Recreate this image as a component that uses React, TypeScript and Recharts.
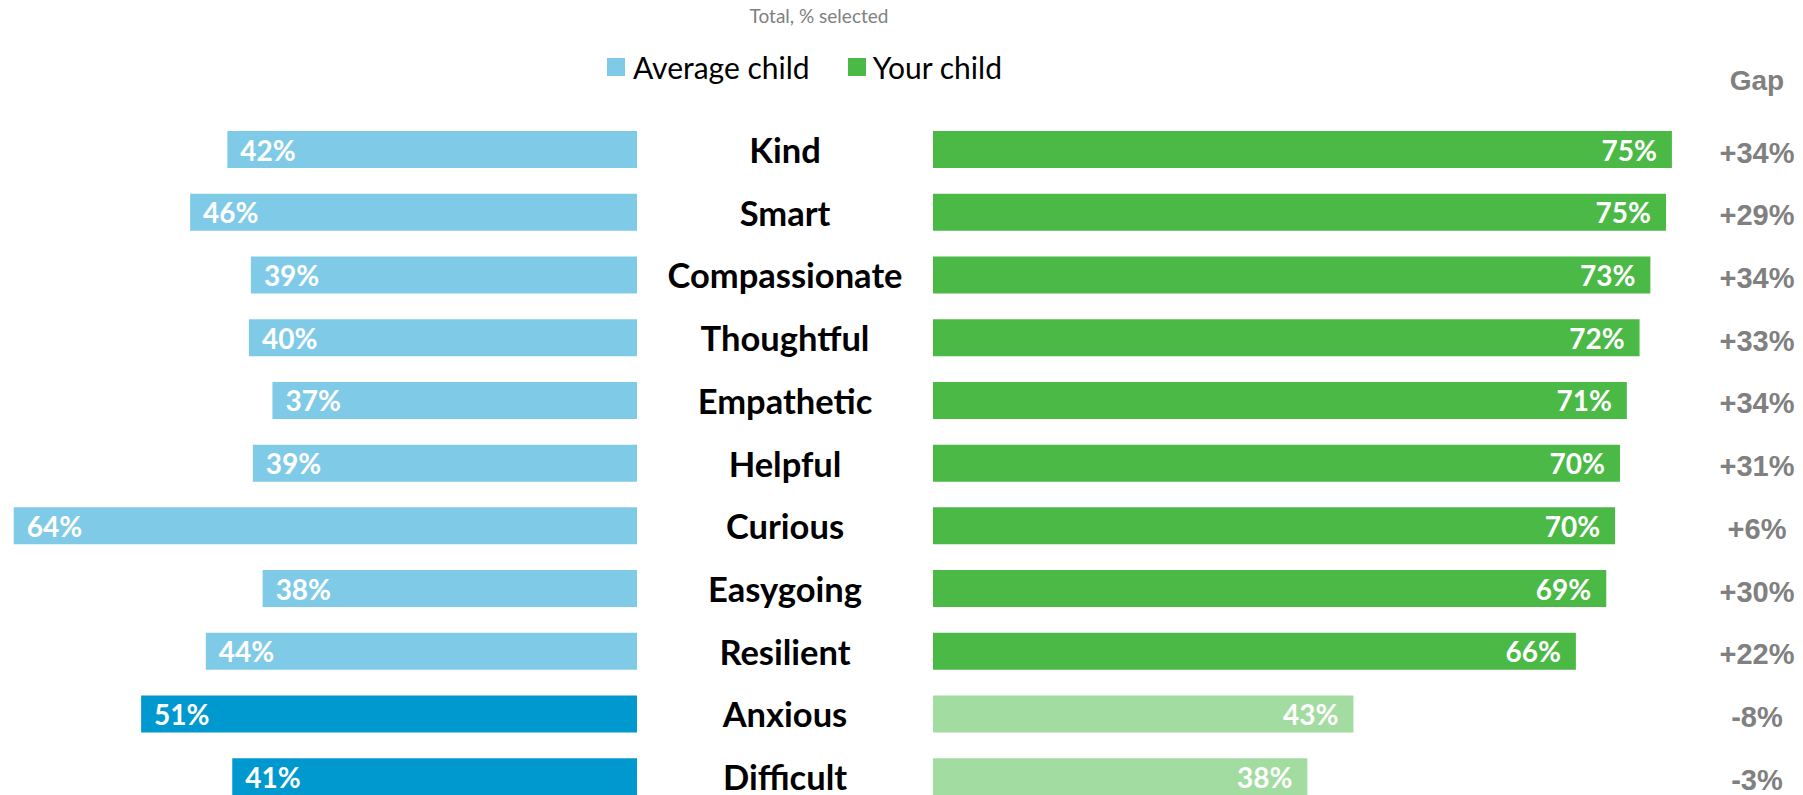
import React from 'react'
import { BarChart, Bar, XAxis, YAxis, Cell, LabelList } from 'recharts'

const categories = ['Kind', 'Smart', 'Compassionate', 'Thoughtful', 'Empathetic', 'Helpful', 'Curious', 'Easygoing', 'Resilient', 'Anxious', 'Difficult']
const averageChild = [41.8, 45.6, 39.4, 39.6, 37.2, 39.2, 63.6, 38.2, 44.0, 50.6, 41.3]
const yourChild = [75.4, 74.8, 73.2, 72.1, 70.8, 70.1, 69.6, 68.7, 65.6, 42.9, 38.2]
const gapLabels = ['+34%', '+29%', '+34%', '+33%', '+34%', '+31%', '+6%', '+30%', '+22%', '-8%', '-3%']
const negativeTraits = ['Anxious', 'Difficult']

const data = categories.map((name, i) => ({
  name,
  avg: averageChild[i],
  your: yourChild[i],
  gap: gapLabels[i],
}))

const AVG_LIGHT = '#7fcbe7'
const AVG_DARK = '#0099cf'
const YOUR_GREEN = '#4bb946'
const YOUR_LIGHT = '#a3dca0'
const GAP_GRAY = '#808080'

const CALIBRI_LIKE = 'Lato, "Open Sans", sans-serif'
const ARIAL_LIKE = '"Liberation Sans", Arial, sans-serif'

const CHART_H = 808
const TOP = 118
const SPLIT_X = 637
const AXIS_W = 296
const GAP_X = 1757 - SPLIT_X

// white % label at the outer-left end of the left bars
const LeftValue = (props: any) => {
  const { x, y, width, height, value } = props
  const left = Math.min(x, x + width)
  return (
    <text x={left + 13} y={y + height / 2} dominantBaseline="central" fill="#fff"
      fontFamily={CALIBRI_LIKE} fontWeight={700} fontSize={28}>
      {Math.round(value)}%
    </text>
  )
}

const RightValue = (props: any) => {
  const { x, y, width, height, value } = props
  const right = Math.max(x, x + width)
  return (
    <text x={right - 15} y={y + height / 2} dominantBaseline="central" textAnchor="end" fill="#fff"
      fontFamily={CALIBRI_LIKE} fontWeight={700} fontSize={28}>
      {Math.round(value)}%
    </text>
  )
}

const GapValue = (props: any) => {
  const { y, height, value } = props
  return (
    <text x={GAP_X} y={y + height / 2 + 3} dominantBaseline="central" textAnchor="middle" fill={GAP_GRAY}
      fontFamily={ARIAL_LIKE} fontWeight={700} fontSize={29}>
      {value}
    </text>
  )
}

const CategoryTick = (props: any) => {
  const { y, payload } = props
  return (
    <text x={AXIS_W / 2} y={y} dominantBaseline="central" textAnchor="middle" fill="#000"
      fontFamily={CALIBRI_LIKE} fontWeight={700} fontSize={34.5}>
      {payload.value}
    </text>
  )
}

export default function App() {
  return (
    <div style={{ position: 'absolute', left: 0, top: 0, width: 1803, height: 795, overflow: 'hidden', background: '#fff' }}>
      {/* title */}
      <div style={{ position: 'absolute', left: 819, top: 4, transform: 'translateX(-50%)', whiteSpace: 'nowrap',
        fontFamily: CALIBRI_LIKE, fontSize: 19, color: GAP_GRAY }}>
        Total, % selected
      </div>

      {/* legend */}
      <div style={{ position: 'absolute', left: 607, top: 49, display: 'flex', alignItems: 'center', whiteSpace: 'nowrap',
        fontFamily: CALIBRI_LIKE, fontSize: 30, color: '#000' }}>
        <span style={{ width: 18, height: 18, background: AVG_LIGHT, display: 'inline-block', marginRight: 8 }} />
        <span>Average child</span>
        <span style={{ width: 18, height: 18, background: YOUR_GREEN, display: 'inline-block', marginLeft: 38, marginRight: 7 }} />
        <span>Your child</span>
      </div>

      <div style={{ position: 'absolute', left: 1757, top: 65, transform: 'translateX(-50%)', whiteSpace: 'nowrap',
        fontFamily: ARIAL_LIKE, fontWeight: 700, fontSize: 28, color: GAP_GRAY }}>
        Gap
      </div>

      {/* left half: average child, growing leftwards */}
      <div style={{ position: 'absolute', left: 0, top: 0 }}>
        <BarChart layout="vertical" width={SPLIT_X} height={CHART_H} data={data}
          margin={{ top: TOP, right: 0, bottom: 0, left: 0 }}>
          <XAxis type="number" domain={[0, 65]} reversed hide />
          <YAxis type="category" dataKey="name" hide />
          <Bar dataKey="avg" barSize={37} isAnimationActive={false}>
            {data.map((d) => (
              <Cell key={d.name} fill={negativeTraits.includes(d.name) ? AVG_DARK : AVG_LIGHT} />
            ))}
            <LabelList dataKey="avg" content={<LeftValue />} />
          </Bar>
        </BarChart>
      </div>

      {/* right half: labels, your child, gap */}
      <div style={{ position: 'absolute', left: SPLIT_X, top: 0 }}>
        <BarChart layout="vertical" width={1803 - SPLIT_X} height={CHART_H} data={data}
          margin={{ top: TOP, right: 86, bottom: 0, left: 0 }}>
          <XAxis type="number" domain={[0, 80]} hide />
          <YAxis type="category" dataKey="name" width={AXIS_W} axisLine={false} tickLine={false}
            tick={<CategoryTick />} interval={0} />
          <Bar dataKey="your" barSize={37} isAnimationActive={false}>
            {data.map((d) => (
              <Cell key={d.name} fill={negativeTraits.includes(d.name) ? YOUR_LIGHT : YOUR_GREEN} />
            ))}
            <LabelList dataKey="your" content={<RightValue />} />
            <LabelList dataKey="gap" content={<GapValue />} />
          </Bar>
        </BarChart>
      </div>
    </div>
  )
}
